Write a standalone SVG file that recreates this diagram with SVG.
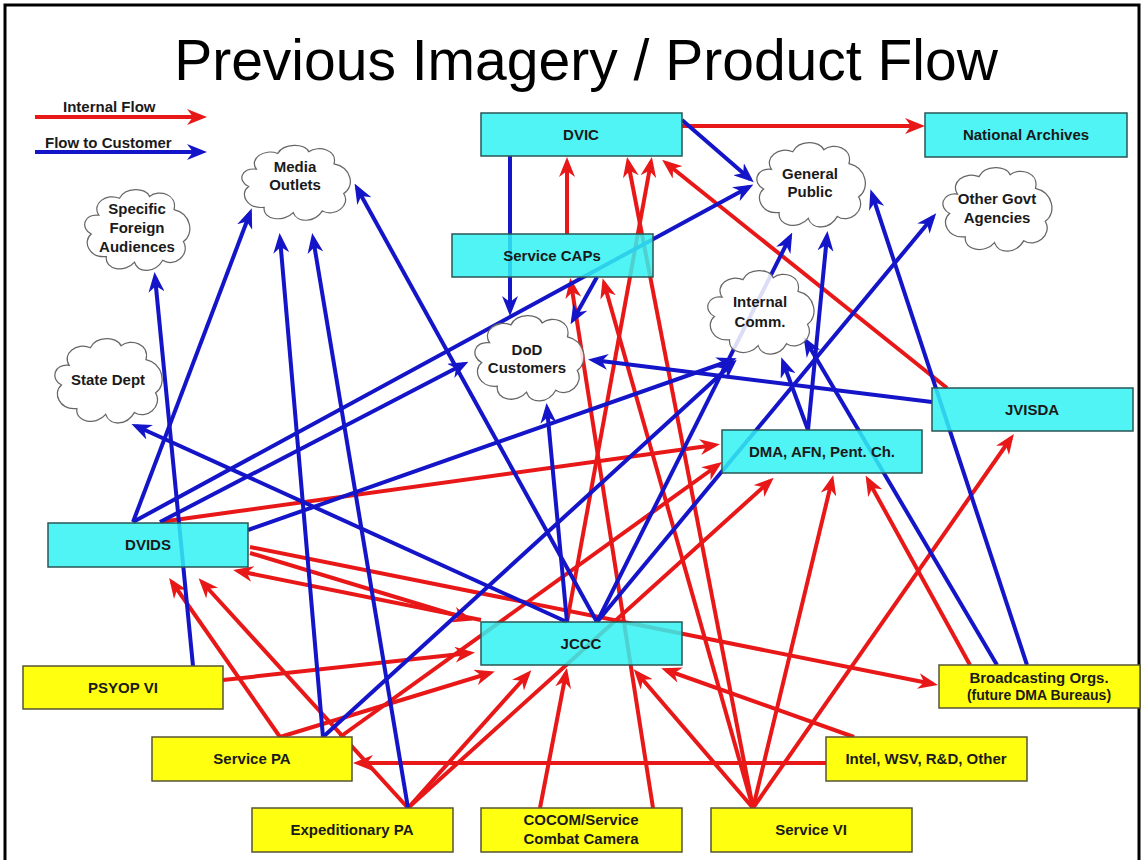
<svg xmlns="http://www.w3.org/2000/svg" width="1143" height="860" viewBox="0 0 1143 860">
<style>
.r{stroke:#E81818;stroke-width:4;fill:none;marker-end:url(#ar)}
.b{stroke:#1414C8;stroke-width:4;fill:none;marker-end:url(#ab)}
.box{fill:#33F2F2;fill-opacity:0.85;stroke:#2A5555;stroke-width:1.5}
.ybox{fill:#FFFF10;stroke:#555533;stroke-width:1.5}
.cloud{fill:#FFFFFF;fill-opacity:0.85;stroke:#666;stroke-width:1.3}
text{font-family:"Liberation Sans",Arial,sans-serif;font-weight:bold;font-size:15px;fill:#1A1A1A;text-anchor:middle}
.title{font-weight:normal;font-size:57px;fill:#000}
.lg{text-anchor:start}
</style>
<defs>
<marker id="ar" viewBox="0 0 20 16" refX="15" refY="8" markerWidth="20" markerHeight="16" markerUnits="userSpaceOnUse" orient="auto"><path d="M0,0 L20,8 L0,16 L6,8 Z" fill="#E81818"/></marker>
<marker id="ab" viewBox="0 0 20 16" refX="15" refY="8" markerWidth="20" markerHeight="16" markerUnits="userSpaceOnUse" orient="auto"><path d="M0,0 L20,8 L0,16 L6,8 Z" fill="#1414C8"/></marker>
<path id="cl" d="M20,30 C12,18 28,6 42,12 C48,0 70,0 74,10 C84,2 104,8 100,24 C118,28 122,50 110,58 C118,72 100,86 88,78 C80,92 62,92 58,80 C48,92 26,88 28,74 C10,76 2,58 12,50 C0,44 4,28 20,30 Z"/>
</defs>
<rect width="1143" height="860" fill="#FFFFFF"/>
<path d="M5,865 V5 H1139 V865" fill="none" stroke="#000" stroke-width="3"/>
<text class="title" x="586" y="80">Previous Imagery / Product Flow</text>

<g id="legend">
<text class="lg" x="63" y="112">Internal Flow</text>
<line class="r" x1="35" y1="117" x2="202" y2="117"/>
<text class="lg" x="45" y="148">Flow to Customer</text>
<line class="b" x1="35" y1="152" x2="202" y2="152"/>
</g>

<g id="connectors">
<line class="r" x1="682" y1="126" x2="920" y2="126"/>
<line class="r" x1="567" y1="234" x2="567" y2="162"/>
<line class="r" x1="753" y1="808" x2="628" y2="162"/>
<line class="r" x1="567" y1="622" x2="651" y2="162"/>
<line class="r" x1="947" y1="388" x2="666" y2="163"/>
<line class="r" x1="653" y1="808" x2="571" y2="283"/>
<line class="r" x1="753" y1="808" x2="604" y2="283"/>
<line class="r" x1="753" y1="808" x2="832" y2="480"/>
<line class="r" x1="753" y1="808" x2="1011" y2="438"/>
<line class="r" x1="753" y1="808" x2="637" y2="673"/>
<line class="r" x1="540" y1="808" x2="566" y2="673"/>
<line class="r" x1="970" y1="665" x2="868" y2="480"/>
<line class="r" x1="854" y1="737" x2="666" y2="670"/>
<line class="r" x1="826" y1="763" x2="358" y2="763"/>
<line class="r" x1="160" y1="522" x2="715" y2="445"/>
<line class="r" x1="250" y1="547" x2="933" y2="684"/>
<line class="r" x1="250" y1="553" x2="468" y2="619"/>
<line class="r" x1="481" y1="620" x2="238" y2="571"/>
<line class="r" x1="280" y1="737" x2="172" y2="582"/>
<line class="r" x1="408" y1="808" x2="202" y2="582"/>
<line class="r" x1="223" y1="680" x2="470" y2="653"/>
<line class="r" x1="280" y1="737" x2="490" y2="673"/>
<line class="r" x1="408" y1="808" x2="528" y2="674"/>
<line class="r" x1="340" y1="737" x2="718" y2="465"/>
<line class="r" x1="408" y1="808" x2="770" y2="481"/>
<line class="b" x1="682" y1="120" x2="750" y2="179"/>
<line class="b" x1="510" y1="156" x2="510" y2="311"/>
<line class="b" x1="133" y1="522" x2="749" y2="187"/>
<line class="b" x1="160" y1="522" x2="464" y2="364"/>
<line class="b" x1="248" y1="530" x2="732" y2="360"/>
<line class="b" x1="133" y1="522" x2="250" y2="213"/>
<line class="b" x1="193" y1="666" x2="155" y2="277"/>
<line class="b" x1="323" y1="737" x2="280" y2="238"/>
<line class="b" x1="408" y1="808" x2="313" y2="238"/>
<line class="b" x1="323" y1="737" x2="733" y2="363"/>
<line class="b" x1="597" y1="622" x2="357" y2="188"/>
<line class="b" x1="567" y1="622" x2="547" y2="408"/>
<line class="b" x1="567" y1="622" x2="136" y2="426"/>
<line class="b" x1="597" y1="622" x2="790" y2="237"/>
<line class="b" x1="597" y1="622" x2="933" y2="217"/>
<line class="b" x1="1027" y1="665" x2="872" y2="194"/>
<line class="b" x1="808" y1="430" x2="827" y2="236"/>
<line class="b" x1="808" y1="430" x2="783" y2="362"/>
<line class="b" x1="997" y1="665" x2="806" y2="341"/>
<line class="b" x1="932" y1="402" x2="593" y2="360"/>
<line class="b" x1="597" y1="277" x2="573" y2="320"/>
</g>

<g id="n-sfa"><use href="#cl" class="cloud" transform="translate(80,187) scale(0.94,0.94)"/><text x="137" y="214">Specific</text><text x="137" y="233">Foreign</text><text x="137" y="252">Audiences</text></g>
<g id="n-media"><use href="#cl" class="cloud" transform="translate(237,143) scale(0.97,0.87)"/><text x="295" y="172">Media</text><text x="295" y="190">Outlets</text></g>
<g id="n-gp"><use href="#cl" class="cloud" transform="translate(752,140) scale(0.97,0.98)"/><text x="810" y="179">General</text><text x="810" y="197">Public</text></g>
<g id="n-oga"><use href="#cl" class="cloud" transform="translate(938,165) scale(0.975,0.97)"/><text x="997" y="204">Other Govt</text><text x="997" y="223">Agencies</text></g>
<g id="n-ic"><use href="#cl" class="cloud" transform="translate(703,268) scale(0.95,0.97)"/><text x="760" y="307">Internal</text><text x="760" y="327">Comm.</text></g>
<g id="n-dod"><use href="#cl" class="cloud" transform="translate(470,313) scale(0.975,0.99)"/><text x="527" y="355">DoD</text><text x="527" y="373">Customers</text></g>
<g id="n-state"><use href="#cl" class="cloud" transform="translate(50,336) scale(0.96,0.98)"/><text x="108" y="385">State Dept</text></g>

<g id="n-dvic"><rect class="box" x="481" y="113" width="201" height="43"/><text x="581" y="140">DVIC</text></g>
<g id="n-na"><rect class="box" x="925" y="113" width="202" height="44"/><text x="1026" y="140">National Archives</text></g>
<g id="n-caps"><rect class="box" x="452" y="234" width="201" height="43"/><text x="552" y="261">Service CAPs</text></g>
<g id="n-dvids"><rect class="box" x="48" y="523" width="200" height="44"/><text x="148" y="550">DVIDS</text></g>
<g id="n-dma"><rect class="box" x="722" y="430" width="200" height="43"/><text x="822" y="457">DMA, AFN, Pent. Ch.</text></g>
<g id="n-jvisda"><rect class="box" x="932" y="388" width="201" height="43"/><text x="1032" y="415">JVISDA</text></g>
<g id="n-jccc"><rect class="box" x="481" y="622" width="201" height="43"/><text x="581" y="649">JCCC</text></g>

<g id="n-broad"><rect class="ybox" x="939" y="665" width="201" height="43"/><text x="1039" y="683">Broadcasting Orgs.</text><text x="1039" y="700" style="font-size:14px">(future DMA Bureaus)</text></g>
<g id="n-psyop"><rect class="ybox" x="23" y="666" width="200" height="43"/><text x="123" y="693">PSYOP VI</text></g>
<g id="n-spa"><rect class="ybox" x="152" y="737" width="200" height="44"/><text x="252" y="764">Service PA</text></g>
<g id="n-intel"><rect class="ybox" x="826" y="737" width="201" height="44"/><text x="926" y="764">Intel, WSV, R&amp;D, Other</text></g>
<g id="n-epa"><rect class="ybox" x="252" y="808" width="201" height="44"/><text x="352" y="835">Expeditionary PA</text></g>
<g id="n-cocom"><rect class="ybox" x="481" y="808" width="201" height="44"/><text x="581" y="825">COCOM/Service</text><text x="581" y="844">Combat Camera</text></g>
<g id="n-svi"><rect class="ybox" x="711" y="808" width="201" height="44"/><text x="811" y="835">Service VI</text></g>
</svg>
